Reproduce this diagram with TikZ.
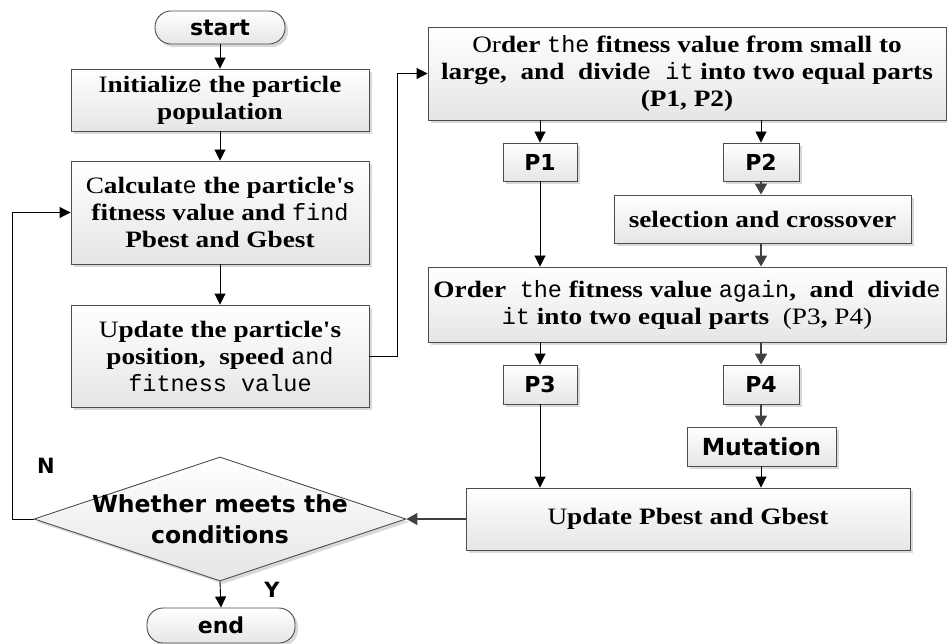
\documentclass[tikz,border=0pt]{standalone}
\usepackage{fontspec}
\setmainfont{Liberation Serif}[FakeStretch=1.16,Ligatures=TeXOff]
\setsansfont{DejaVu Sans}
\newfontfamily\monof{Liberation Mono}
\usetikzlibrary{arrows.meta,shapes.geometric,shadows}
\newcommand{\mm}[1]{{\monof #1}}
\newcommand{\bb}[1]{\textbf{#1}}
\begin{document}
\begin{tikzpicture}[x=1pt,y=-1pt,
  box/.style={draw=black!70, line width=0.9pt, rectangle, top color=white, bottom color=black!10,
    drop shadow={shadow xshift=3pt,shadow yshift=-3pt,fill=black!25,opacity=0.6},
    inner sep=0pt, align=center, font=\fontsize{23.5}{27}\selectfont},
  pill/.style={box, rounded corners=16pt, font=\sffamily\bfseries\fontsize{22}{24}\selectfont},
  sbox/.style={box, font=\sffamily\bfseries\fontsize{22}{24}\selectfont},
  dia/.style={draw=black!70, line width=0.9pt, diamond, top color=white, bottom color=black!10,
    drop shadow={shadow xshift=3pt,shadow yshift=-3pt,fill=black!25,opacity=0.6}, inner sep=0pt},
  arr/.style={draw=black, line width=0.9pt, -{Triangle[length=11pt,width=11pt]}},
  garr/.style={draw=black!75, line width=1.6pt, -{Triangle[length=11pt,width=12pt]}},
  lbl/.style={font=\sffamily\bfseries\fontsize{21}{24}\selectfont}
]
\useasboundingbox (0,0) rectangle (947,644);

\node[pill, minimum width=130pt, minimum height=33pt] (start) at (220,27.5) {start};
\node[box, minimum width=298pt, minimum height=62pt] (init) at (220,100)
  {I\bb{nitializ}\mm{e} \bb{the particle}\\ \bb{population}};
\node[box, minimum width=298pt, minimum height=103pt] (calc) at (220,212.5)
  {C\bb{alculat}\mm{e} \bb{the particle's}\\ \bb{fitness value and} \mm{find}\\ \bb{Pbest and Gbest}};
\node[box, minimum width=298pt, minimum height=102pt] (upd) at (220,356)
  {U\bb{pdate the particle's}\\ \bb{position,\ \ speed} \mm{and}\\ \mm{fitness value}};

\node[box, minimum width=518pt, minimum height=93pt] (ord1) at (687,73.5)
  {Or\bb{der} \mm{the} \bb{fitness value from small to}\\ \bb{large,\ \ and\ \ divid}\mm{e\ it} \bb{into two equal parts}\\ \bb{(P1, P2)}};
\node[sbox, minimum width=74pt, minimum height=38pt] (p1) at (540,162) {P1};
\node[sbox, minimum width=76pt, minimum height=38pt] (p2) at (761,162) {P2};
\node[box, minimum width=297pt, minimum height=48pt] (sel) at (762.5,219) {\bb{selection and crossover}};
\node[box, minimum width=518pt, minimum height=75pt] (ord2) at (687,304.5)
  {\bb{Order}\ \ \mm{the} \bb{fitness value} \mm{again}\bb{,\ \ and\ \ divid}\mm{e}\\ \mm{it} \bb{into two equal parts}\ \ (P3\bb{,} P4)};
\node[sbox, minimum width=74pt, minimum height=39pt] (p3) at (540,384.5) {P3};
\node[sbox, minimum width=76pt, minimum height=39pt] (p4) at (761,384.5) {P4};
\node[sbox, minimum width=149pt, minimum height=39pt, font=\sffamily\bfseries\fontsize{23.5}{24}\selectfont] (mut) at (761.5,446.5) {Mutation};
\node[box, minimum width=444pt, minimum height=62pt] (upb) at (688,519) {U\bb{pdate Pbest and Gbest}};

\node[dia, minimum width=372pt, minimum height=124pt] (dec) at (220,519) {};
\node[lbl, align=center, font=\sffamily\bfseries\fontsize{23.5}{31}\selectfont] (dectext) at (220,519) {Whether meets the\\conditions};
\node[pill, minimum width=148pt, minimum height=35pt] (end) at (221,625.5) {end};

\node[lbl] (N) at (46,466) {N};
\node[lbl] (Y) at (272,590) {Y};

\draw[arr] (start) -- (init);
\draw[arr] (init) -- (calc);
\draw[arr] (calc) -- (upd);
\draw[arr] (upd.east) -- ++(28,0) |- (ord1.west);
\draw[arr] (ord1.south -| p1) -- (p1.north);
\draw[arr] (ord1.south -| p2) -- (p2.north);
\draw[garr] (p2.south) -- (sel.north -| p2);
\draw[garr] (sel.south -| p2) -- (ord2.north -| p2);
\draw[arr] (p1.south) -- (ord2.north -| p1);
\draw[arr] (ord2.south -| p3) -- (p3.north);
\draw[garr] (ord2.south -| p4) -- (p4.north);
\draw[garr] (p4.south) -- (mut.north -| p4);
\draw[arr] (p3.south) -- (upb.north -| p3);
\draw[arr] (mut.south -| p4) -- (upb.north -| p4);
\draw[garr] (upb.west) -- (dec.east);
\draw[arr] (dec.west) -- (12,519) |- (calc.west);
\draw[arr] (dec.south) -- (end.north);
\end{tikzpicture}
\end{document}
